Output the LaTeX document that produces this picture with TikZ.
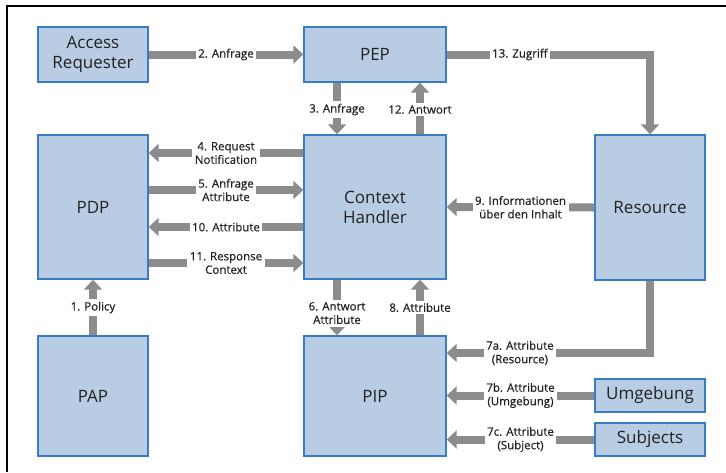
\documentclass[tikz,border=0pt]{standalone}
\usepackage{fontspec}
\setmainfont{Open Sans}
\newfontfamily\lblfont{Open Sans}[FakeBold=0.5]
\usetikzlibrary{arrows.meta}
\definecolor{boxfill}{HTML}{B8CCE4}
\definecolor{boxline}{HTML}{3A7CC4}
\definecolor{arrgray}{HTML}{8C8C8C}
\definecolor{txt}{HTML}{222222}
\begin{document}
\begin{tikzpicture}[x=1pt,y=-1pt,
  box/.style={draw=boxline, fill=boxfill, line width=1.4pt, inner sep=0pt, align=center,
    text=txt, font=\fontsize{17}{20}\selectfont},
  flow/.style={draw=arrgray, line width=8pt, -{Triangle[length=10pt,width=18pt]}},
  lbl/.style={fill=white, inner sep=2.5pt, align=center, text=txt,
    font=\lblfont\fontsize{11.5}{13.5}\selectfont}]
\useasboundingbox (0,0) rectangle (726,472);
\draw[line width=1.3pt] (7,472) -- (7,6) -- (726,6);

\node[box, minimum width=110pt, minimum height=55pt] (ar) at (93,54.5) {Access\\Requester};
\node[box, minimum width=142pt, minimum height=55pt] (pep) at (375,54.5) {PEP};
\node[box, minimum width=110pt, minimum height=144pt] (pdp) at (93,207) {PDP};
\node[box, minimum width=142pt, minimum height=144pt] (ch) at (375,207) {Context\\Handler};
\node[box, minimum width=110pt, minimum height=145pt] (res) at (650,207.5) {Resource};
\node[box, minimum width=110pt, minimum height=120pt] (pap) at (93,396) {PAP};
\node[box, minimum width=142pt, minimum height=120pt] (pip) at (375,396) {PIP};
\node[box, minimum width=110pt, minimum height=33pt] (umg) at (650,395.5) {Umgebung};
\node[box, minimum width=110pt, minimum height=33pt] (subj) at (650,439.5) {Subjects};

\coordinate (c13) at (650,54.5);
\coordinate (c7) at (650,353);

\draw[flow] (ar.east) -- node[lbl]{2. Anfrage} (pep.west);
\draw[flow] (pep.east) -- node[lbl, pos=0.36]{13. Zugriff} (c13) -- (res.north);
\draw[flow] ([xshift=-38pt]pep.south) -- node[lbl, pos=0.52]{3. Anfrage} ([xshift=-38pt]ch.north);
\draw[flow] ([xshift=45pt]ch.north) -- node[lbl, pos=0.48]{12. Antwort} ([xshift=45pt]pep.south);
\draw[flow] ([yshift=54pt]ch.west) -- node[lbl]{4. Request\\Notification} ([yshift=54pt]pdp.east);
\draw[flow] ([yshift=17pt]pdp.east) -- node[lbl]{5. Anfrage\\Attribute} ([yshift=17pt]ch.west);
\draw[flow] ([yshift=-20pt]ch.west) -- node[lbl]{10. Attribute} ([yshift=-20pt]pdp.east);
\draw[flow] ([yshift=-56pt]pdp.east) -- node[lbl]{11. Response\\Context} ([yshift=-56pt]ch.west);
\draw[flow] (pap.north) -- node[lbl]{1. Policy} (pdp.south);
\draw[flow] ([xshift=-38pt]ch.south) -- node[lbl, pos=0.6]{6. Antwort\\Attribute} ([xshift=-38pt]pip.north);
\draw[flow] ([xshift=45pt]pip.north) -- node[lbl, pos=0.5]{8. Attribute} ([xshift=45pt]ch.south);
\draw[flow] (res.west) -- node[lbl]{9. Informationen\\über den Inhalt} (ch.east);
\draw[flow] (res.south) -- (c7) -- node[lbl, pos=0.64]{7a. Attribute\\(Resource)} ([yshift=43pt]pip.east);
\draw[flow] (umg.west) -- node[lbl]{7b. Attribute\\(Umgebung)} (pip.east |- umg.west);
\draw[flow] (subj.west) -- node[lbl]{7c. Attribute\\(Subject)} (pip.east |- subj.west);
\end{tikzpicture}
\end{document}
